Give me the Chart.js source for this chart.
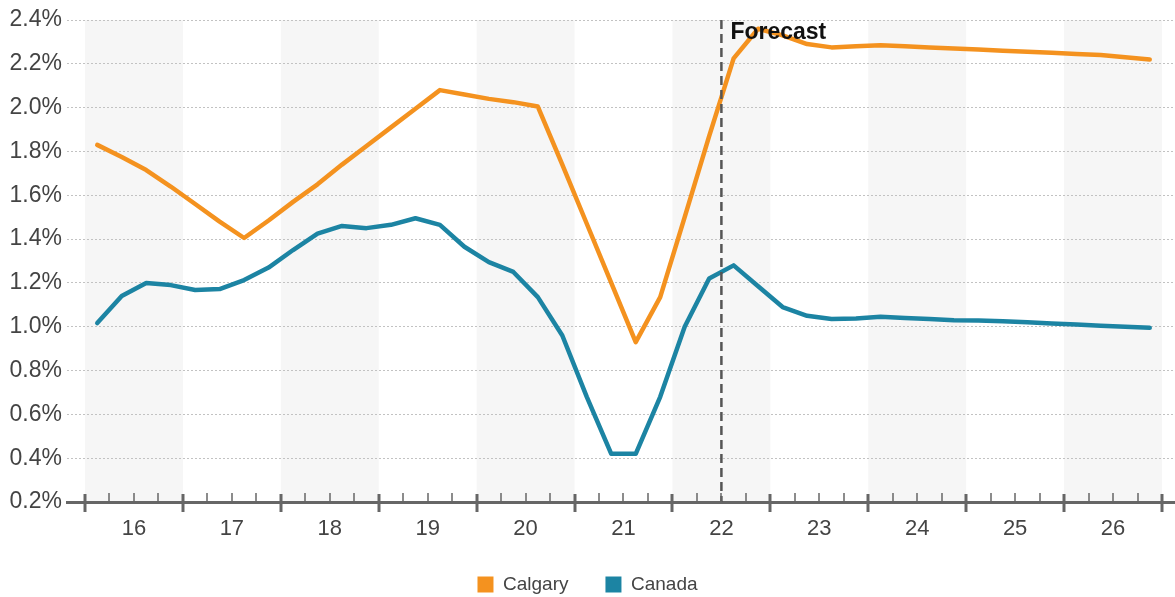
<!DOCTYPE html>
<html>
<head>
<meta charset="utf-8">
<script src="https://cdn.jsdelivr.net/npm/chart.js@4.4.0/dist/chart.umd.min.js"></script>
<style>
  html, body { margin: 0; padding: 0; background: #fff; }
</style>
</head>
<body>
<canvas id="growthChart" width="1175" height="597"></canvas>
<script>
// Quarterly series, 2016 Q1 .. 2026 Q4
const years = [2016, 2017, 2018, 2019, 2020, 2021, 2022, 2023, 2024, 2025, 2026];
const yearLabels = ['16', '17', '18', '19', '20', '21', '22', '23', '24', '25', '26'];

const calgary = [
  1.83, 1.775, 1.715, 1.64,   1.56, 1.48, 1.405, 1.485,
  1.57, 1.65, 1.74, 1.825,    1.91, 1.995, 2.08, 2.06,
  2.04, 2.025, 2.005, 1.74,   1.47, 1.20, 0.93, 1.135,
  1.50, 1.87, 2.225, 2.36,    2.33, 2.29, 2.275, 2.28,
  2.285, 2.28, 2.275, 2.27,   2.265, 2.26, 2.255, 2.25,
  2.245, 2.24, 2.23, 2.22
];
const canada = [
  1.017, 1.14, 1.20, 1.19,    1.168, 1.172, 1.213, 1.27,
  1.35, 1.425, 1.46, 1.45,    1.465, 1.495, 1.465, 1.365,
  1.295, 1.25, 1.135, 0.96,   0.68, 0.42, 0.42, 0.68,
  1.00, 1.22, 1.28, 1.185,    1.09, 1.05, 1.035, 1.038,
  1.045, 1.04, 1.035, 1.03,   1.028, 1.025, 1.02, 1.015,
  1.01, 1.005, 1.00, 0.995
];

const forecastStart = 2022.5;

// mid-quarter time values
const quarters = years.flatMap(y => [1, 2, 3, 4].map(q => y + (q - 0.5) / 4));

const orange = '#f4921f';
const teal = '#1c84a3';
const fontFamily = '"Liberation Sans", Arial, sans-serif';

// alternating grey year bands behind the grid
const yearBands = {
  id: 'yearBands',
  beforeDraw(chart) {
    const { ctx, chartArea, scales: { x } } = chart;
    ctx.save();
    ctx.fillStyle = '#f6f6f6';
    years.forEach((yr, i) => {
      if (i % 2) return;
      const x0 = x.getPixelForValue(yr);
      const x1 = x.getPixelForValue(yr + 1);
      ctx.fillRect(x0, chartArea.top, x1 - x0, chartArea.bottom - chartArea.top);
    });
    ctx.restore();
  }
};

// year and quarter tick marks on the x axis
const quarterTicks = {
  id: 'quarterTicks',
  afterDraw(chart) {
    const { ctx, chartArea, scales: { x } } = chart;
    const base = chartArea.bottom;
    ctx.save();
    ctx.strokeStyle = '#666';
    years.concat([years[years.length - 1] + 1]).forEach((yr, i) => {
      const px = Math.round(x.getPixelForValue(yr));
      ctx.lineWidth = 3;
      ctx.beginPath();
      ctx.moveTo(px, base - 8);
      ctx.lineTo(px, base + 10);
      ctx.stroke();
      if (i === years.length) return;
      ctx.lineWidth = 1.5;
      [0.25, 0.5, 0.75].forEach(f => {
        const qx = Math.round(x.getPixelForValue(yr + f));
        ctx.beginPath();
        ctx.moveTo(qx, base - 9);
        ctx.lineTo(qx, base);
        ctx.stroke();
      });
    });
    ctx.restore();
  }
};

// dashed forecast marker with label
const forecastLine = {
  id: 'forecastLine',
  afterDatasetsDraw(chart) {
    const { ctx, chartArea, scales: { x } } = chart;
    const px = x.getPixelForValue(forecastStart);
    ctx.save();
    ctx.strokeStyle = '#555';
    ctx.lineWidth = 2.5;
    ctx.setLineDash([9, 5]);
    ctx.beginPath();
    ctx.moveTo(px, chartArea.top);
    ctx.lineTo(px, chartArea.bottom);
    ctx.stroke();
    ctx.setLineDash([]);
    ctx.fillStyle = '#111';
    ctx.font = 'bold 23px ' + fontFamily;
    ctx.textBaseline = 'middle';
    ctx.fillText('Forecast', px + 9, chartArea.top + 13);
    ctx.restore();
  }
};

const ctx = document.getElementById('growthChart').getContext('2d');

new Chart(ctx, {
  type: 'line',
  data: {
    datasets: [
      {
        label: 'Calgary',
        data: quarters.map((q, i) => ({ x: q, y: calgary[i] })),
        borderColor: orange,
        backgroundColor: orange,
        borderWidth: 4.5,
        borderCapStyle: 'round',
        borderJoinStyle: 'round',
        pointRadius: 0,
        tension: 0
      },
      {
        label: 'Canada',
        data: quarters.map((q, i) => ({ x: q, y: canada[i] })),
        borderColor: teal,
        backgroundColor: teal,
        borderWidth: 4.5,
        borderCapStyle: 'round',
        borderJoinStyle: 'round',
        pointRadius: 0,
        tension: 0
      }
    ]
  },
  options: {
    responsive: false,
    animation: false,
    devicePixelRatio: 1,
    layout: { padding: { top: 20, right: 0, bottom: 0, left: 0 } },
    scales: {
      x: {
        type: 'linear',
        min: 2016 - 0.184,
        max: 2027 + 0.133,
        afterBuildTicks(scale) {
          scale.ticks = years.map(y => ({ value: y + 0.5 }));
        },
        afterFit(scale) { scale.height = 36; },
        ticks: {
          autoSkip: false,
          maxRotation: 0,
          padding: 14,
          color: '#444',
          font: { family: fontFamily, size: 22 },
          callback: v => yearLabels[years.indexOf(Math.floor(v))]
        },
        grid: { display: false, drawTicks: false },
        border: { display: true, color: '#666', width: 3 }
      },
      y: {
        min: 0.2,
        max: 2.4,
        afterFit(scale) { scale.width = 67; },
        ticks: {
          stepSize: 0.2,
          padding: 5,
          color: '#444',
          font: { family: fontFamily, size: 23 },
          callback: v => v.toFixed(1) + '%'
        },
        grid: { color: '#c2c2c2', lineWidth: 1, drawTicks: false },
        border: { display: false, dash: [2, 2] }
      }
    },
    plugins: {
      legend: {
        position: 'bottom',
        maxHeight: 59,
        labels: {
          boxWidth: 16,
          boxHeight: 16,
          padding: 37,
          color: '#444',
          font: { family: fontFamily, size: 19 },
          generateLabels(chart) {
            return Chart.defaults.plugins.legend.labels.generateLabels(chart)
              .map(item => ({ ...item, lineWidth: 0 }));
          }
        }
      },
      tooltip: { enabled: false }
    }
  },
  plugins: [yearBands, quarterTicks, forecastLine]
});
</script>
</body>
</html>
